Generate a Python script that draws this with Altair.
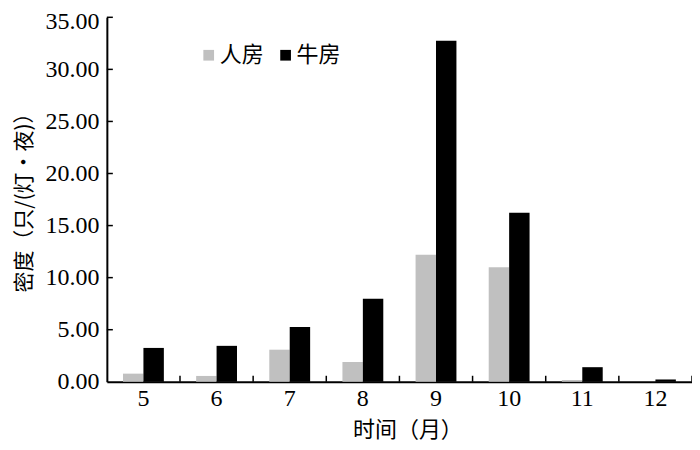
import altair as alt
import pandas as pd

months = ["5", "6", "7", "8", "9", "10", "11", "12"]
human = [0.78, 0.56, 3.08, 1.90, 12.20, 10.99, 0.17, 0.0]
cattle = [3.25, 3.45, 5.27, 7.98, 32.75, 16.22, 1.40, 0.22]
series = ["人房", "牛房"]
colors = ["#c0c0c0", "#000000"]
y_ticks = [0, 5, 10, 15, 20, 25, 30, 35]

rows = []
for i, m in enumerate(months):
    rows.append({"month": m, "series": series[0], "value": human[i]})
    rows.append({"month": m, "series": series[1], "value": cattle[i]})
df = pd.DataFrame(rows)

W, H = 586, 365
x_scale = alt.Scale(domain=months, paddingInner=0, paddingOuter=0)
y_scale = alt.Scale(domain=[0, 35], nice=False, zero=True)

x_axis = alt.Axis(title="时间（月）", labelAngle=0, ticks=False,
                  domainColor="black", domainWidth=2,
                  labelFont="Liberation Serif", labelFontSize=24,
                  labelColor="black", labelPadding=5,
                  titleFont="Noto Sans CJK SC", titleFontSize=22,
                  titleFontWeight="normal", titleColor="black",
                  titlePadding=9, titleX=W / 2 + 8)
y_axis = alt.Axis(title="密度（只/(灯·夜)）", values=y_ticks, format=".2f",
                  ticks=False, grid=False, domainColor="black", domainWidth=2,
                  labelFont="Liberation Serif", labelFontSize=24,
                  labelColor="black", labelPadding=8,
                  labelOffset={"condition": {"test": "datum.value == 35", "value": 4},
                               "value": 0},
                  titleFont="Noto Sans CJK SC", titleFontSize=21,
                  titleFontWeight="normal", titleColor="black",
                  titleX=-72, titleY=180)

bars = alt.Chart(df).mark_bar().encode(
    x=alt.X("month:N", scale=x_scale, sort=months, axis=x_axis),
    xOffset=alt.XOffset("series:N", sort=series,
                        scale=alt.Scale(domain=series, paddingInner=0, paddingOuter=0.79)),
    y=alt.Y("value:Q", scale=y_scale, axis=y_axis),
    color=alt.Color("series:N", sort=series,
                    scale=alt.Scale(domain=series, range=colors),
                    legend=alt.Legend(title=None, orient="none", legendX=91, legendY=27,
                                      direction="horizontal", symbolType="square",
                                      symbolSize=115, symbolStrokeWidth=0,
                                      labelFont="Noto Sans CJK SC", labelFontSize=22,
                                      labelColor="black", labelOffset=0,
                                      columnPadding=10)),
)

ytick_df = pd.DataFrame({"value": y_ticks[1:]})
yticks = alt.Chart(ytick_df).mark_rule(color="black", strokeWidth=1.5).encode(
    y=alt.Y("value:Q", scale=y_scale, axis=y_axis),
    x=alt.value(0), x2=alt.value(6),
)

xtick_df = pd.DataFrame({"month": months})
xticks = alt.Chart(xtick_df).mark_rule(color="black", strokeWidth=1.5).encode(
    x=alt.X("month:N", scale=x_scale, sort=months, bandPosition=1, axis=x_axis),
    y=alt.value(H), y2=alt.value(H - 6),
)

chart = alt.layer(bars, yticks, xticks).properties(
    width=W, height=H,
    autosize=alt.AutoSizeParams(type="none"),
    padding={"left": 99, "top": 9, "right": 0, "bottom": 60},
    background="white",
).configure_view(stroke=None)

chart.save("out.html", embed_options={"renderer": "svg", "actions": False})
